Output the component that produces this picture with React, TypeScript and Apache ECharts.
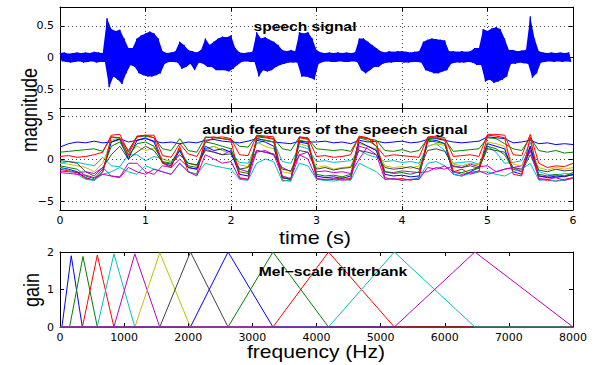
import React, { useEffect, useRef } from "react";
import * as echarts from "echarts";

// ---------- speech signal envelope (read every 0.05 s) ----------
const speechStep = 0.05;
const speechUpper = [
  0.07, 0.08, 0.06, 0.07, 0.08, 0.07, 0.08, 0.07, 0.09, 0.08,
  0.07, 0.62, 0.45, 0.42, 0.44, 0.3, 0.15, 0.15, 0.3, 0.35,
  0.38, 0.41, 0.38, 0.3, 0.1, 0.07, 0.08, 0.1, 0.25, 0.2,
  0.12, 0.1, 0.08, 0.12, 0.3, 0.2, 0.25, 0.3, 0.33, 0.32,
  0.35, 0.15, 0.08, 0.07, 0.08, 0.09, 0.4, 0.3, 0.32, 0.28,
  0.25, 0.2, 0.12, 0.1, 0.12, 0.1, 0.4, 0.38, 0.4, 0.3,
  0.12, 0.08, 0.07, 0.08, 0.07, 0.08, 0.07, 0.08, 0.07, 0.08,
  0.3, 0.3, 0.25, 0.2, 0.15, 0.1, 0.08, 0.1, 0.09, 0.1,
  0.1, 0.09, 0.08, 0.09, 0.1, 0.25, 0.28, 0.3, 0.29, 0.28,
  0.27, 0.1, 0.1, 0.09, 0.1, 0.09, 0.1, 0.15, 0.15, 0.45,
  0.42, 0.46, 0.48, 0.45, 0.3, 0.12, 0.12, 0.1, 0.11, 0.12,
  0.65, 0.3, 0.1, 0.08, 0.07, 0.08, 0.07, 0.08, 0.07, 0.08,
];
const speechLower = [
  -0.06, -0.07, -0.08, -0.07, -0.06, -0.08, -0.07, -0.06, -0.08, -0.07,
  -0.07, -0.47, -0.3, -0.35, -0.42, -0.25, -0.12, -0.15, -0.25, -0.28,
  -0.3, -0.3, -0.28, -0.25, -0.1, -0.07, -0.07, -0.08, -0.18, -0.15,
  -0.1, -0.2, -0.08, -0.1, -0.15, -0.15, -0.2, -0.2, -0.2, -0.22,
  -0.18, -0.12, -0.07, -0.06, -0.07, -0.07, -0.3, -0.2, -0.22, -0.2,
  -0.15, -0.12, -0.1, -0.08, -0.08, -0.08, -0.3, -0.3, -0.32, -0.35,
  -0.1, -0.07, -0.06, -0.07, -0.07, -0.06, -0.07, -0.07, -0.06, -0.07,
  -0.2, -0.25, -0.2, -0.15, -0.15, -0.1, -0.08, -0.08, -0.07, -0.07,
  -0.08, -0.08, -0.07, -0.07, -0.08, -0.2, -0.22, -0.25, -0.25, -0.22,
  -0.2, -0.1, -0.08, -0.08, -0.08, -0.07, -0.08, -0.12, -0.12, -0.38,
  -0.35, -0.4, -0.38, -0.35, -0.3, -0.1, -0.1, -0.08, -0.09, -0.1,
  -0.32, -0.25, -0.08, -0.07, -0.06, -0.07, -0.06, -0.07, -0.06, -0.07,
];
const speechTicks = [-0.5, 0, 0.5];

// ---------- audio features (read every 0.1 s) ----------
const featureStep = 0.1;
const featureTicks = [-5, 0, 5];
const featBlueA = [1.4,1.8,2.0,1.9,2.1, 1.9, 2.0,2.4, 2.0, 2.2,2.4,2.1, 1.9,2.0, 1.8, 2.0,1.9, 2.2,2.3,2.1,2.0, 1.9,2.1, 2.4,2.2,2.0, 1.9,1.8, 2.1,2.0, 2.0,2.1,1.9,2.0,1.8, 2.2,2.0,2.1, 1.9,2.0,2.1,1.9,2.0, 2.3,2.4,2.2, 2.0,1.9,2.0,2.1, 2.6,2.5,2.4, 1.9,2.0, 2.2, 1.8,1.9,1.7,1.8,1.7];
const featGreenA = [0.8,0.9,1.0,1.1,1.2, 0.9, 2.6,2.4, 1.0, 2.6,2.7,2.5, 1.2,1.0, 2.4, 1.0,0.8, 2.6,2.5,2.4,2.3, 1.5,1.4, 2.7,2.6,2.4, 1.2,1.0, 2.6,2.4, 1.2,1.1,1.0,1.1,0.9, 2.6,2.4,2.2, 1.0,0.9,1.1,0.8,1.0, 2.4,2.5,2.3, 0.9,1.0,1.1,1.2, 2.5,2.4,1.8, 1.2,1.0, 2.5, 1.0,0.8,1.0,0.7,0.8];
const featRedA = [0.3,0.4,0.2,0.3,0.5, 0.8, 2.8,2.9, 0.8, 2.7,2.8,2.8, 0.4,0.2, 1.8, 0.6,0.3, 2.0,2.5,2.6,2.4, 0.5,0.4, 2.8,2.7,2.6, -2.2,-2.4, 2.6,2.5, 0.3,0.4,0.2,0.3,0.5, 2.7,2.5,1.5, 0.3,0.5,0.4,0.3,0.2, 2.6,2.7,2.5, 0.3,0.4,0.5,0.3, 2.9,2.9,2.8, 0.5,0.4, 2.9, -0.5,-1.0,-0.8,-0.9,-0.5];
const featCyanA = [-0.5,-0.3,-0.4,-0.6,-0.8, 0.2, -0.8,-0.9, 0.5, 0.5,-0.2,0.3, 0.0,-0.3, 1.0, -0.5,-0.7, 1.2,1.5,1.0,0.8, -0.4,-0.5, 1.8,2.2,2.0, -0.3,-0.5, 1.5,1.2, -0.3,-0.2,-0.4,-0.3,-0.2, 1.0,0.5,0.2, -0.3,-0.2,-0.4,-0.3,-0.5, 1.5,1.8,1.0, -0.5,-0.4,-0.3,-0.6, 1.5,0.8,-0.5, -0.4,-0.2, 2.0, -1.5,-1.8,-2.0,-1.7,-1.8];
const featMagentaA = [-1.4,-1.5,-1.6,-1.5,-1.7, -1.0, -2.0,-2.1, -0.5, -0.5,-1.5,-1.8, -0.8,-1.0, 0.0, -1.0,-1.2, 1.2,0.8,0.5,1.0, -1.2,-1.5, 0.8,1.0,0.5, -1.0,-1.5, 0.5,0.8, -1.5,-1.4,-1.6,-1.5,-1.7, 0.0,1.5,1.0, -1.5,-1.6,-1.4,-1.5,-1.6, -1.5,-1.0,-1.2, -0.8,-1.0,-0.6,-0.9, -0.8,-1.5,-1.2, -1.0,-0.8, 1.5, -2.0,-2.1,-2.2,-2.0,-1.9];
const featYellow = [-0.5,-0.6,-0.8,-1.0,-1.5, -0.5, 2.2,2.5, 0.5, 1.5,1.0,1.3, 0.0,-0.3, 0.5, -0.5,-0.8, 1.0,1.5,1.0,0.8, -0.7,-0.9, 2.0,1.5,1.2, -1.5,-1.7, 1.8,1.5, -1.0,-0.8,-1.2,-1.0,-0.9, 1.8,1.5,1.2, -0.8,-1.0,-0.9,-1.1,-0.8, 1.5,1.8,1.6, -0.6,-0.8,-0.5,-0.7, 2.0,1.8,1.5, -0.6,-0.8, 1.2, -1.0,-1.3,-1.0,-1.2,-1.0];
const featBlack = [-0.2,-0.3,-0.5,-1.5,-2.0, -1.0, 0.5,1.5, 0.0, 0.8,1.5,1.0, -0.4,-0.6, 0.5, -0.5,-0.7, 1.0,0.8,0.5,0.6, -1.2,-1.0, 1.0,0.8,0.6, -1.2,-1.4, 1.0,0.8, -1.2,-1.0,-1.3,-1.1,-1.0, 1.0,0.8,0.5, -1.0,-1.2,-1.1,-0.9,-1.2, 1.0,1.2,0.9, -0.9,-1.0,-0.8,-1.1, 1.2,1.0,0.8, -1.0,-1.2, 1.0, -1.3,-1.5,-1.2,-1.4,-1.3];
const featBlueB = [-1.0,-1.2,-1.5,-2.2,-2.5, -1.5, 2.0,2.3, 0.0, 2.2,2.5,2.0, -0.5,-0.8, 1.0, -1.0,-1.2, 1.5,1.0,1.2,0.8, -1.8,-2.0, 2.2,2.0,1.5, -2.2,-2.4, 2.0,1.8, -2.0,-2.2,-2.1,-2.3,-2.0, 2.0,1.5,1.0, -1.8,-2.0,-1.9,-2.1,-2.0, 2.0,2.2,1.8, -1.8,-2.0,-1.5,-1.0, 1.8,1.5,1.2, -1.5,-1.8, 1.5, -2.0,-2.2,-2.0,-2.1,-1.8];
const featGreenB = [-0.8,-1.0,-1.2,-2.0,-2.3, -1.2, 1.5,2.0, 0.3, 1.8,2.0,1.5, -0.3,-0.5, 1.2, -0.8,-1.0, 2.0,1.8,1.5,1.2, -1.5,-1.7, 2.4,2.2,2.0, -2.2,-2.3, 2.2,2.0, -1.8,-2.0,-1.9,-2.1,-1.8, 2.5,2.2,1.5, -1.5,-1.7,-1.6,-1.8,-1.5, 2.2,2.0,1.8, -1.5,-1.6,-1.3,-1.0, 1.5,1.2,0.5, -1.2,-1.5, 0.5, -1.8,-2.0,-1.8,-2.0,-1.6];
const featRedB = [-1.2,-1.4,-1.6,-2.3,-2.5, -1.5, 2.6,2.5, 0.5, 2.6,2.8,2.5, -0.5,-1.0, 1.5, -1.5,-1.8, 2.5,2.6,2.4,2.2, -2.2,-2.4, 2.6,2.5,2.3, -2.5,-2.6, 2.5,2.3, -2.3,-2.5,-2.4,-2.2,-2.3, 2.6,2.4,2.0, -2.2,-2.4,-2.3,-2.5,-2.2, 2.5,2.6,2.2, -1.5,-1.2,-1.8,-1.5, 2.8,2.7,2.5, -1.8,-2.0, 2.6, -2.4,-2.5,-2.6,-2.4,-2.2];
const featCyanB = [-1.0,-1.3,-1.8,-2.4,-2.5, -1.8, -1.5,-1.0, -1.5, -1.8,-0.8,-1.2, -1.5,-1.8, -0.5, -1.5,-1.8, -0.5,-0.8,-1.0,-1.2, -2.4,-2.5, -0.5,0.0,-0.3, -2.6,-2.5, -0.5,-0.8, -2.4,-2.5,-2.6,-2.4,-2.5, -0.5,-1.0,-1.5, -2.4,-2.3,-2.5,-2.4,-2.3, -0.5,-0.3,-0.8, -1.8,-2.0,-1.7,-1.5, -1.5,-1.8,-2.0, -1.5,-1.2, -0.5, -2.5,-2.4,-2.6,-2.5,-2.3];
const featMagentaB = [-1.6,-1.7,-1.8,-1.9,-2.2, -1.8, -2.0,-2.2, -1.0, -1.5,-1.8,-1.2, -1.5,-1.8, -0.5, -1.5,-2.0, 0.5,0.0,-0.5,-0.3, -2.3,-2.4, 1.0,0.8,0.5, -2.0,-2.3, 0.5,0.0, -2.3,-2.4,-2.3,-2.5,-2.4, 1.5,1.2,0.5, -2.4,-2.3,-2.5,-2.4,-2.4, -1.0,-1.2,-0.8, -1.5,-1.8,-1.6,-1.4, -1.8,-1.5,-1.2, -1.0,-1.5, 1.0, -2.3,-2.4,-2.2,-2.5,-2.2];

const featureSeriesValues = [
  featBlueA, featGreenA, featRedA, featCyanA, featMagentaA, featYellow,
  featBlack, featBlueB, featGreenB, featRedB, featCyanB, featMagentaB,
];

// ---------- Mel filterbank ----------
const filterStart = [30, 150, 350, 580, 840, 1167, 1556, 2034, 2621, 3321, 4187, 5214];
const filterPeak = [175, 358, 582, 841, 1167, 1556, 2034, 2621, 3321, 4187, 5214, 6470];
const filterEnd = [348, 582, 841, 1167, 1556, 2034, 2621, 3321, 4187, 5214, 6470, 8000];
const filterGain = [1.9, 1.88, 1.92, 1.95, 1.95, 1.98, 2.0, 2.0, 2.0, 2.0, 2.0, 2.0];
const freqMax = 8000;

const matlabColors = ["#0000ff", "#008000", "#ff0000", "#00bfbf", "#bf00bf", "#bfbf00", "#404040"];

const tickFont = { fontFamily: "DejaVu Sans", fontSize: 11, color: "#000" };
const gridDots = { type: [1, 3] as any, color: "#444", width: 1 };
const fmt = (v: number) => String(v).replace("-", "\u2212");

function xAxisDef(gridIndex: number, position: "top" | "bottom", max: number, interval: number, showLabel: boolean, split: boolean) {
  return {
    type: "value", gridIndex, position, min: 0, max, interval,
    axisLine: { show: true, onZero: false, lineStyle: { color: "#000", width: 1 } },
    axisTick: { show: true, inside: true, length: 4, lineStyle: { color: "#000" } },
    axisLabel: { show: showLabel, margin: 5, formatter: fmt, ...tickFont },
    splitLine: { show: split, lineStyle: gridDots },
  };
}
function yAxisDef(gridIndex: number, position: "left" | "right", min: number, max: number, ticks: number[], showLabel: boolean) {
  return {
    type: "value", gridIndex, position, min, max,
    axisLine: { show: true, onZero: false, lineStyle: { color: "#000", width: 1 } },
    axisTick: { show: true, inside: true, length: 4, customValues: ticks, lineStyle: { color: "#000" } },
    axisLabel: { show: showLabel, margin: 6, customValues: ticks, formatter: fmt, ...tickFont },
    splitLine: { show: false },
  };
}

function buildOption() {
  const speechData: number[][] = [];
  speechUpper.forEach((u, i) => {
    speechData.push([i * speechStep, u]);
    speechData.push([i * speechStep + speechStep / 2, speechLower[i]]);
  });

  const series: any[] = [];
  // grid lines (panel 1 & 2) drawn underneath
  series.push({
    type: "line", xAxisIndex: 0, yAxisIndex: 0, z: 1, symbol: "none",
    lineStyle: { opacity: 0 }, data: speechTicks.map((v) => [0, v]),
    markLine: { silent: true, symbol: "none", label: { show: false }, lineStyle: gridDots,
      data: speechTicks.filter((v) => v !== 0).map((v) => ({ yAxis: v })) },
  });
  series.push({
    type: "line", xAxisIndex: 2, yAxisIndex: 2, z: 1, symbol: "none",
    lineStyle: { opacity: 0 }, data: featureTicks.map((v) => [0, v]),
    markLine: { silent: true, symbol: "none", label: { show: false }, lineStyle: gridDots,
      data: featureTicks.map((v) => ({ yAxis: v })) },
  });
  // filled envelope of the waveform, drawn through the axis scales
  series.push({
    type: "custom", xAxisIndex: 0, yAxisIndex: 0, z: 2,
    data: [[0, 0]],
    renderItem: (_p: any, api: any) => {
      const pts: number[][] = [];
      speechUpper.forEach((u, i) => pts.push(api.coord([i * speechStep, u])));
      for (let i = speechLower.length - 1; i >= 0; i--) {
        pts.push(api.coord([i * speechStep + speechStep / 2, speechLower[i]]));
      }
      return { type: "polygon", shape: { points: pts }, style: { fill: "#0000ff" } };
    },
  });
  series.push({
    type: "line", xAxisIndex: 0, yAxisIndex: 0, z: 3, symbol: "none",
    lineStyle: { color: "#0000ff", width: 1 }, data: speechData,
  });
  featureSeriesValues.forEach((vals, k) => {
    series.push({
      type: "line", xAxisIndex: 2, yAxisIndex: 2, z: 3, symbol: "none",
      lineStyle: { color: matlabColors[k % matlabColors.length], width: 1 },
      data: vals.map((v, i) => [i * featureStep, v]),
    });
  });
  filterPeak.forEach((p, k) => {
    series.push({
      type: "line", xAxisIndex: 4, yAxisIndex: 4, z: 3, symbol: "none",
      lineStyle: { color: matlabColors[k % matlabColors.length], width: 1 },
      data: [[0, 0], [filterStart[k], 0], [p, filterGain[k]], [filterEnd[k], 0], [freqMax, 0]],
    });
  });

  const sx = 1.2;
  const txt = (text: string, x: number, y: number, font: string, extra: any = {}) => ({
    type: "text", x, y, z: 100, ...extra,
    style: { text, font, fill: "#000", align: "center", verticalAlign: "middle", textAlign: "center", textVerticalAlign: "middle" },
  });

  return {
    animation: false,
    backgroundColor: "#fff",
    grid: [
      { left: 60, top: 7, width: 513, height: 101 },
      { left: 60, top: 108, width: 513, height: 102 },
      { left: 60, top: 252, width: 513, height: 75 },
    ],
    xAxis: [
      xAxisDef(0, "bottom", 6, 1, false, true),
      xAxisDef(0, "top", 6, 1, false, false),
      xAxisDef(1, "bottom", 6, 1, true, true),
      xAxisDef(1, "top", 6, 1, false, false),
      xAxisDef(2, "bottom", freqMax, 1000, true, false),
      xAxisDef(2, "top", freqMax, 1000, false, false),
    ],
    yAxis: [
      yAxisDef(0, "left", -0.8, 0.8, speechTicks, true),
      yAxisDef(0, "right", -0.8, 0.8, speechTicks, false),
      yAxisDef(1, "left", -6, 6, featureTicks, true),
      yAxisDef(1, "right", -6, 6, featureTicks, false),
      yAxisDef(2, "left", 0, 2, [0, 1, 2], true),
      yAxisDef(2, "right", 0, 2, [0, 1, 2], false),
    ],
    series,
    graphic: [
      txt("speech signal", 305, 26, "bold 13px 'Liberation Sans', Arial, sans-serif", { scaleX: sx }),
      txt("audio features of the speech signal", 335, 130, "bold 13px 'Liberation Sans', Arial, sans-serif", { scaleX: 1.22 }),
      txt("Mel\u2212scale filterbank", 333, 271, "bold 13px 'Liberation Sans', Arial, sans-serif", { scaleX: sx }),
      txt("time (s)", 315, 238, "18px 'Liberation Sans', Arial, sans-serif", { scaleX: sx }),
      txt("frequency (Hz)", 316, 352, "18px 'Liberation Sans', Arial, sans-serif", { scaleX: 1.17 }),
      txt("magnitude", 29, 110, "18px 'Liberation Sans', Arial, sans-serif", { rotation: Math.PI / 2, scaleY: sx }),
      txt("gain", 31, 290, "18px 'Liberation Sans', Arial, sans-serif", { rotation: Math.PI / 2, scaleY: sx }),
    ],
  };
}

export default function App() {
  const ref = useRef<HTMLDivElement>(null);
  useEffect(() => {
    const chart = echarts.init(ref.current!, null, { renderer: "svg" });
    chart.setOption(buildOption() as any);
    return () => chart.dispose();
  }, []);
  return (
    <div
      ref={ref}
      style={{ position: "fixed", left: 0, top: 0, width: 604, height: 365, background: "#fff" }}
    />
  );
}
